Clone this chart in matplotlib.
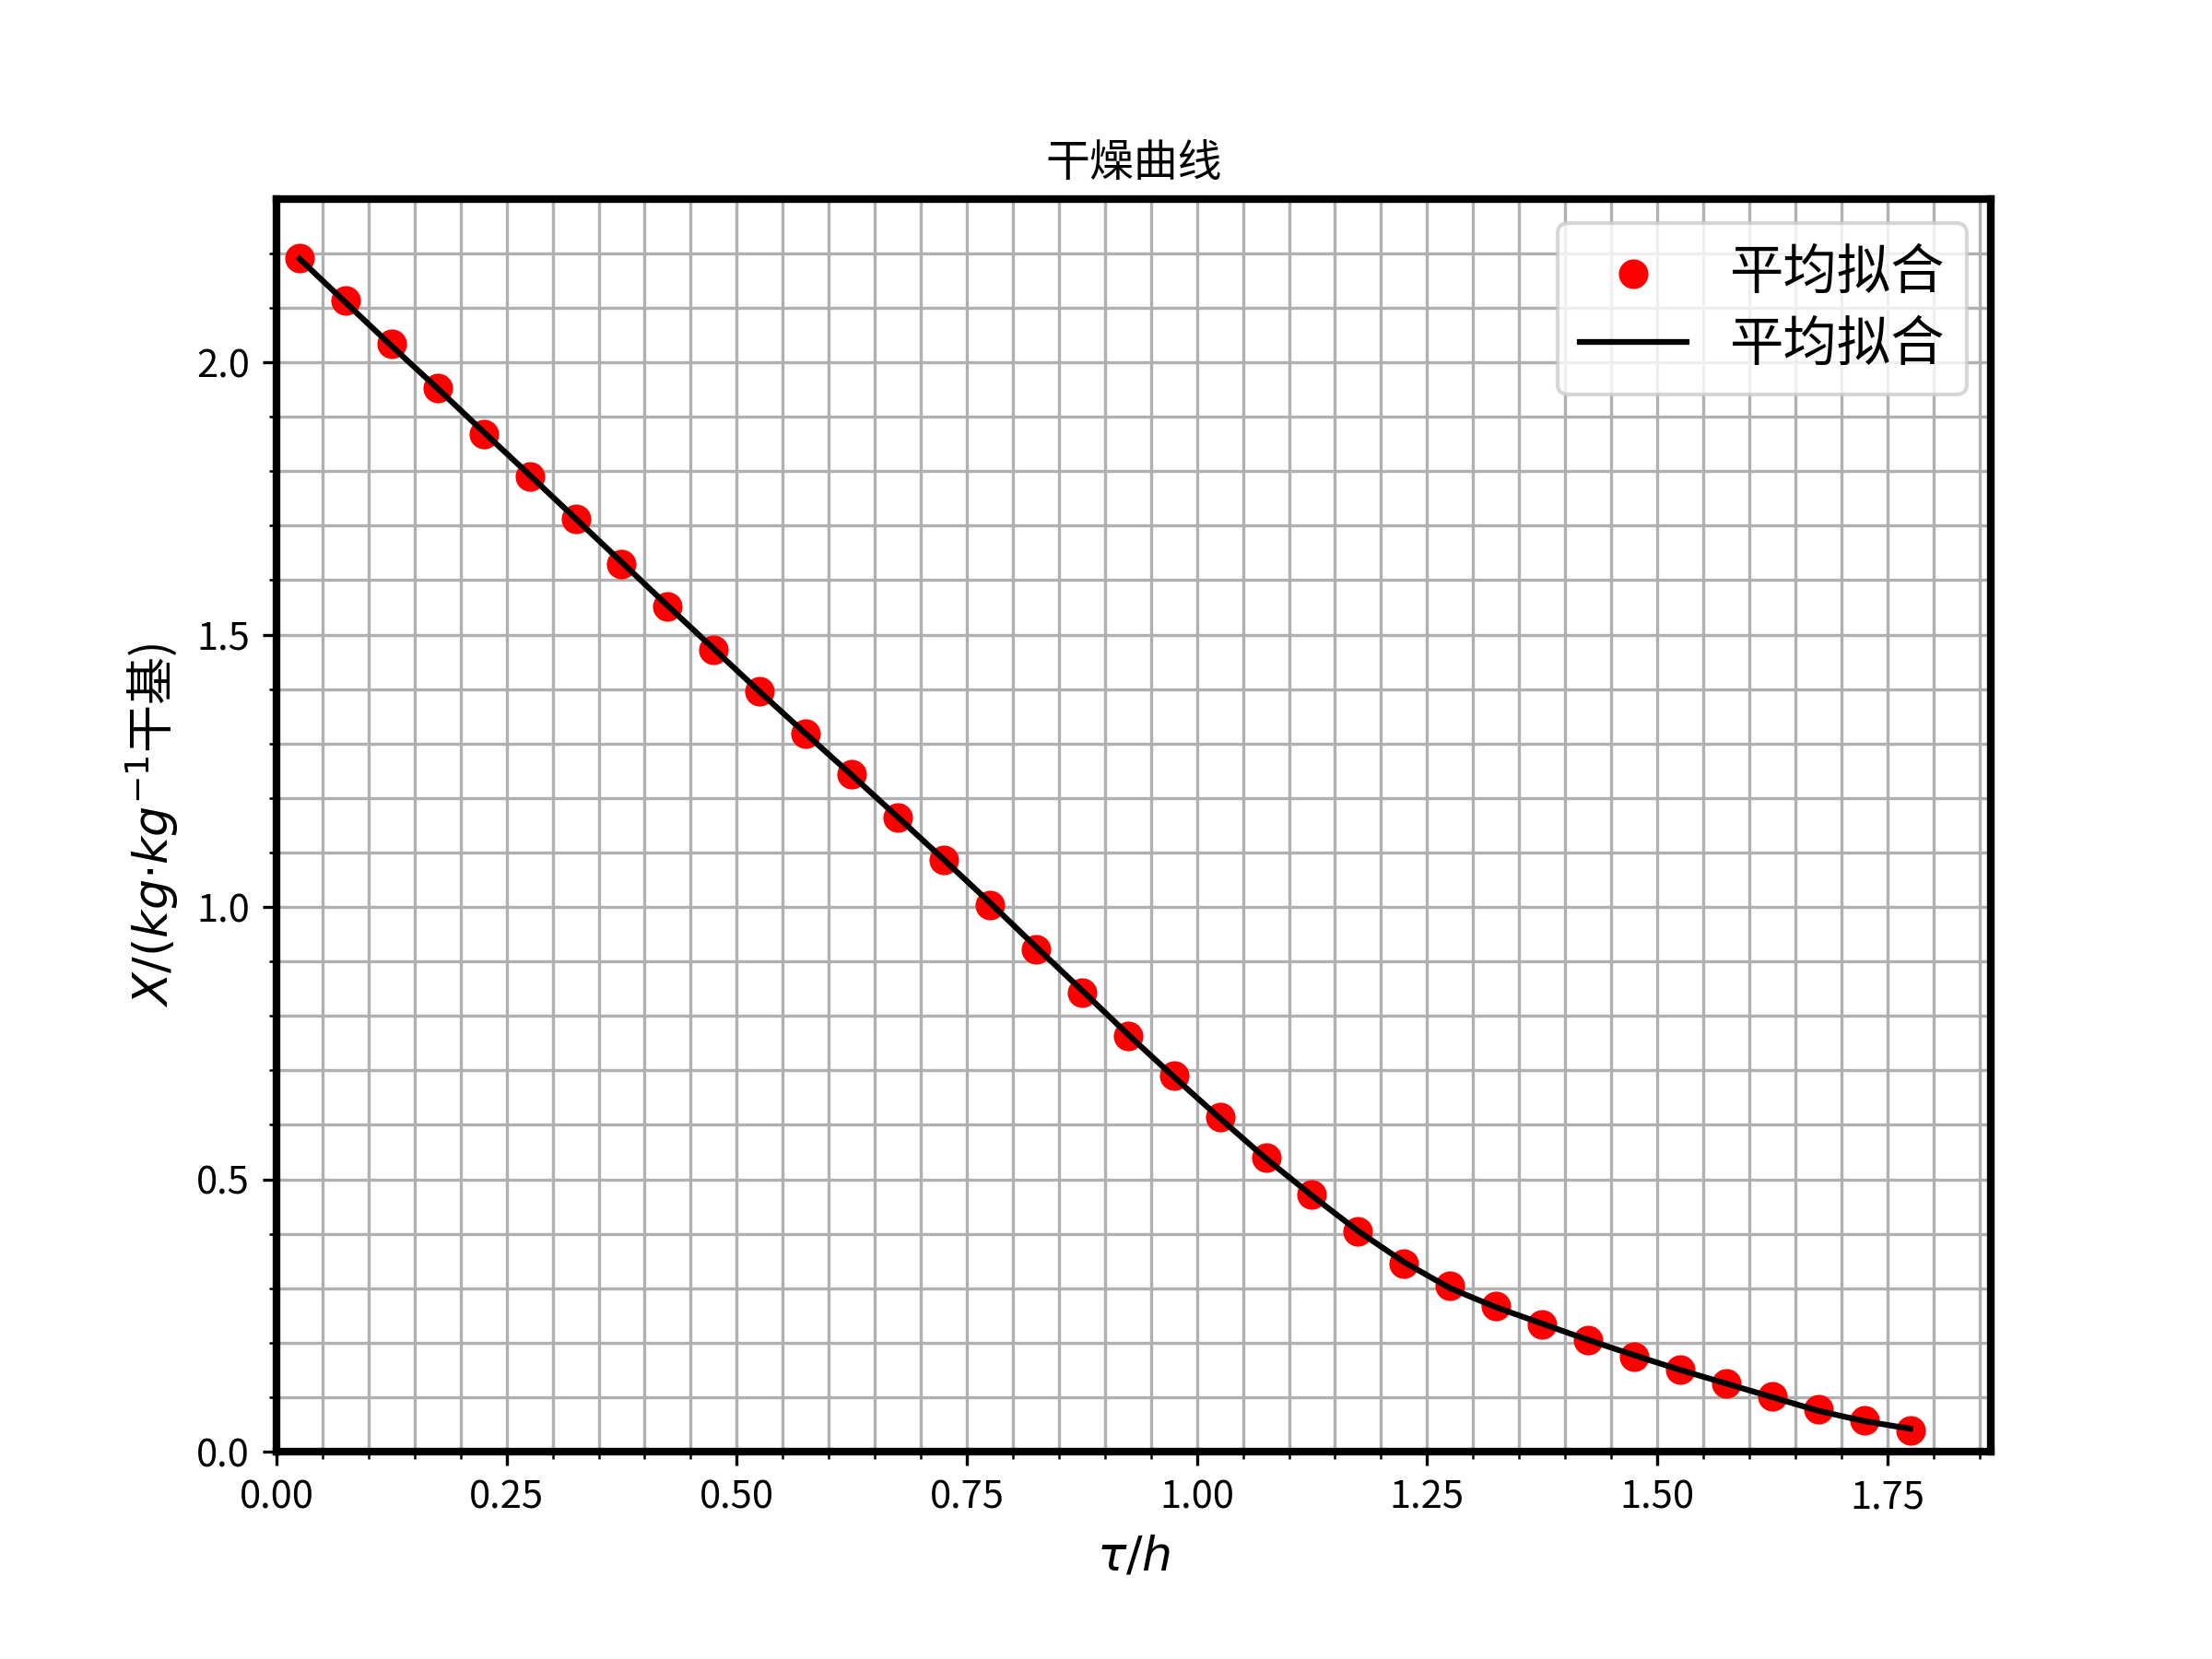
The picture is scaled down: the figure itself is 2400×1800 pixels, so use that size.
import matplotlib
matplotlib.use("Agg")
import matplotlib.pyplot as plt
from matplotlib.ticker import MultipleLocator

# === Fonts ===
plt.rcParams['font.family'] = ['Noto Sans CJK SC', 'DejaVu Sans']
plt.rcParams['axes.unicode_minus'] = False

# === Data ===
tau = [0.025, 0.075, 0.125, 0.175, 0.225, 0.275, 0.325, 0.375, 0.425, 0.475,
       0.525, 0.575, 0.625, 0.675, 0.725, 0.775, 0.825, 0.875, 0.925, 0.975,
       1.025, 1.075, 1.125, 1.175, 1.225, 1.275, 1.325, 1.375, 1.425, 1.475,
       1.525, 1.575, 1.625, 1.675, 1.725, 1.775]
X_avg = [2.192, 2.114, 2.034, 1.953, 1.868, 1.790, 1.712, 1.629, 1.551, 1.473,
         1.396, 1.318, 1.243, 1.165, 1.087, 1.004, 0.923, 0.843, 0.763, 0.690,
         0.615, 0.540, 0.472, 0.405, 0.345, 0.304, 0.267, 0.233, 0.205, 0.174,
         0.150, 0.125, 0.101, 0.078, 0.057, 0.039]
X_fit = [2.190, 2.110, 2.030, 1.952, 1.872, 1.793, 1.713, 1.633, 1.553, 1.474,
         1.395, 1.318, 1.242, 1.165, 1.087, 1.008, 0.927, 0.847, 0.766, 0.688,
         0.612, 0.538, 0.470, 0.405, 0.348, 0.300, 0.265, 0.235, 0.205, 0.177,
         0.150, 0.125, 0.100, 0.075, 0.056, 0.042]

# === Plot ===
fig, ax = plt.subplots(figsize=(8, 6), dpi=300)
fig.subplots_adjust(left=0.125, right=0.9, top=0.88, bottom=0.125)

ax.scatter(tau, X_avg, s=45, color="red", label="平均拟合")
ax.plot(tau, X_fit, color="black", linewidth=1.5, label="平均拟合")

ax.set_xlim(left=0)
ax.set_ylim(bottom=0)
ax.xaxis.set_major_locator(MultipleLocator(0.25))
ax.xaxis.set_minor_locator(MultipleLocator(0.05))
ax.yaxis.set_major_locator(MultipleLocator(0.5))
ax.yaxis.set_minor_locator(MultipleLocator(0.1))
ax.grid(True, which="both", color="#b0b0b0", linewidth=0.8)
ax.set_axisbelow(True)

for sp in ax.spines.values():
    sp.set_linewidth(2)

ax.tick_params(axis="both", which="major", labelsize=10)
ax.set_title("干燥曲线", fontsize=11.5)
ax.set_xlabel(r"$\tau/h$", fontsize=12.5)
ax.set_ylabel(r"$X/(kg·kg^{-1}$干基)", fontsize=12.5)
ax.legend(loc="upper right", fontsize=14, labelspacing=0.3, borderaxespad=0.45)

fig.savefig("out.png", dpi=300)
plt.close(fig)
